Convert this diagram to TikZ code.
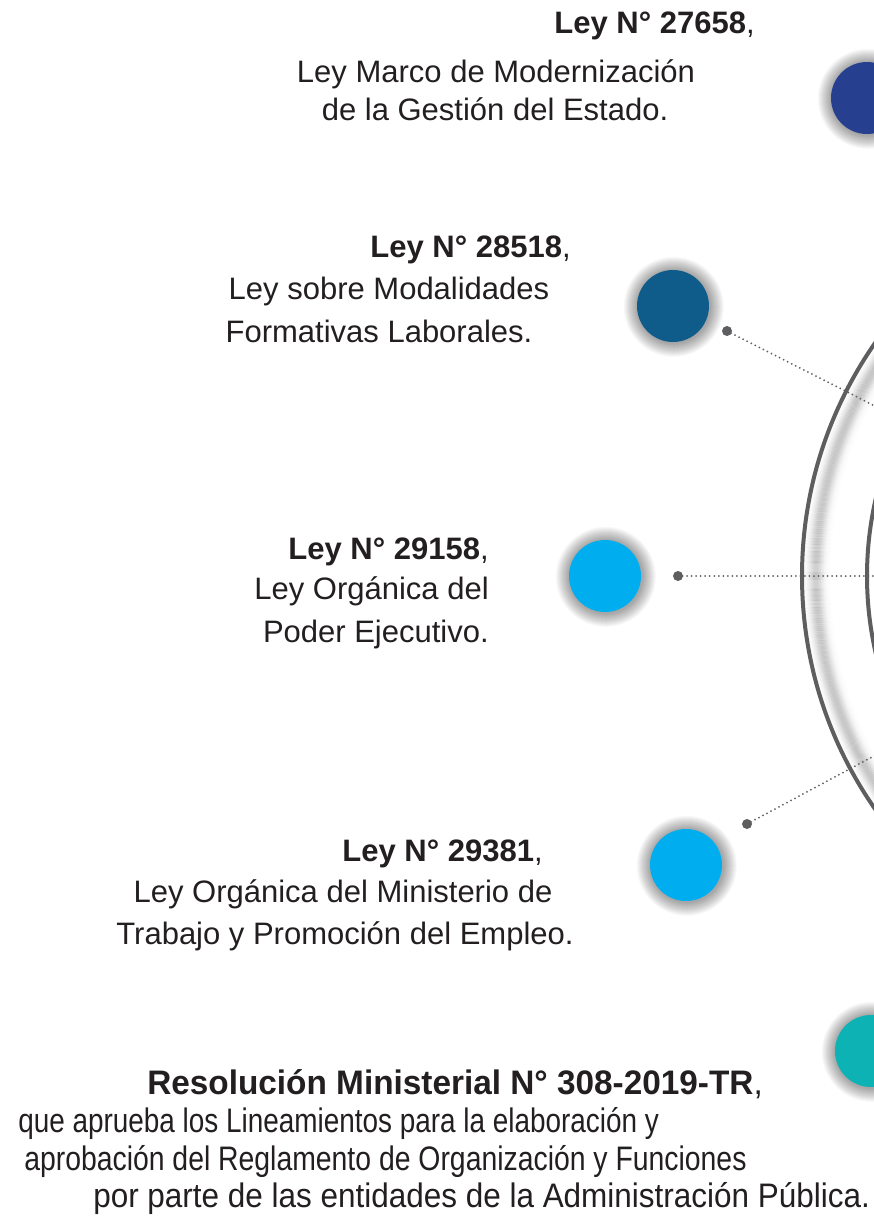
\documentclass[tikz,border=0pt]{standalone}
\usepackage{fontspec}
\usepackage{graphicx}
\setmainfont{Liberation Sans}
\newfontfamily\condfont[FakeStretch=0.92]{Liberation Sans}
\usetikzlibrary{calc}
\definecolor{txt}{HTML}{231F20}
\definecolor{ringgray}{HTML}{5E5E60}
\definecolor{cA}{HTML}{263F8F}
\definecolor{cB}{HTML}{0F5B8A}
\definecolor{cC}{HTML}{00AEEF}
\definecolor{cD}{HTML}{0DB3B4}
\tikzset{
  lbl/.style={text=txt, inner sep=0pt, font=\fontsize{23.25pt}{28pt}\selectfont},
  lblb/.style={lbl, font=\fontsize{23.25pt}{28pt}\selectfont\bfseries},
  cond/.style={text=txt, inner sep=0pt, font=\condfont\fontsize{25.5pt}{30pt}\selectfont},
  ball/.style={circle, minimum size=54pt, inner sep=0pt, draw=none},
  dotnode/.style={circle, fill=ringgray, minimum size=7.5pt, inner sep=0pt},
  dotline/.style={draw=ringgray, line width=1.5pt, line cap=round, dash pattern=on 0pt off 3.4pt},
  ring/.style={draw=ringgray, line width=3pt},
}
\newcommand{\ballshadow}[1]{%
  \foreach \k in {14,...,1} {
    \fill[black, opacity=0.028] ($(#1)+(0.8,0.8)$) circle[radius=27pt+\k*0.75pt];
  }}
\begin{document}
\begin{tikzpicture}[x=0.75pt, y=-0.75pt]
\useasboundingbox (0,0) rectangle (874,1232);
\clip (0,0) rectangle (874,1232);
\fill[white] (0,0) rectangle (874,1232);
\coordinate (O) at (1210,576);

% ring shadow
\foreach \k in {2,...,34} {
  \pgfmathsetmacro\op{0.19*exp(-((\k-14)/7)^2)}
  \draw[black, opacity=\op, line width=0.8pt] (O) circle[radius=306pt-\k*0.75pt];
}
% rings
\draw[ring] (O) circle[radius=306pt];
\draw[ring] (O) circle[radius=257.25pt];

% dots and dotted connectors
\node[dotnode] (D2) at (727,331) {};
\node[dotnode] (D3) at (678,576) {};
\node[dotnode] (D4) at (747,824) {};
\draw[dotline] (D2.center) -- (O);
\draw[dotline] (D3.center) -- (O);
\draw[dotline] (D4.center) -- (O);

% circles
\coordinate (P1) at (867,98);
\coordinate (P2) at (673,306);
\coordinate (P3) at (605,576);
\coordinate (P4) at (686,865);
\coordinate (P5) at (871,1051);
\ballshadow{P1}\ballshadow{P2}\ballshadow{P3}\ballshadow{P4}\ballshadow{P5}
\node[ball, fill=cA] (C1) at (P1) {};
\node[ball, fill=cB] (C2) at (P2) {};
\node[ball, fill=cC] (C3) at (P3) {};
\node[ball, fill=cC] (C4) at (P4) {};
\node[ball, fill=cD] (C5) at (P5) {};

% block 1
\node[lblb, anchor=base east] (t1a) at (755,33) {Ley N° 27658\mdseries,};
\node[lbl, anchor=base] (t1b) at (496,82) {Ley Marco de Modernización};
\node[lbl, anchor=base] (t1c) at (495,120) {de la Gestión del Estado.};
% block 2
\node[lblb, anchor=base east] (t2a) at (571,257) {Ley N° 28518\mdseries,};
\node[lbl, anchor=base] (t2b) at (389,299) {Ley sobre Modalidades};
\node[lbl, anchor=base] (t2c) at (379,342) {Formativas Laborales.};
% block 3
\node[lblb, anchor=base east] (t3a) at (489,559) {Ley N° 29158\mdseries,};
\node[lbl, anchor=base east] (t3b) at (489,599) {Ley Orgánica del};
\node[lbl, anchor=base east] (t3c) at (489,642) {Poder Ejecutivo.};
% block 4
\node[lblb, anchor=base east] (t4a) at (543,861) {Ley N° 29381\mdseries,};
\node[lbl, anchor=base] (t4b) at (343,902) {Ley Orgánica del Ministerio de};
\node[lbl, anchor=base] (t4c) at (345,944) {Trabajo y Promoción del Empleo.};
% block 5
\node[cond, anchor=base west] (t5a) at (147,1094) {\scalebox{1.066}[1]{\bfseries Resolución Ministerial N° 308-2019-TR\mdseries,}};
\node[cond, anchor=base west] (t5b) at (18,1132) {\scalebox{0.892}[1]{que aprueba los Lineamientos para la elaboración y}};
\node[cond, anchor=base west] (t5c) at (24,1170) {\scalebox{0.907}[1]{aprobación del Reglamento de Organización y Funciones}};
\node[cond, anchor=base west] (t5d) at (93,1207) {\scalebox{1.006}[1]{por parte de las entidades de la Administración Pública.}};
\end{tikzpicture}
\end{document}
